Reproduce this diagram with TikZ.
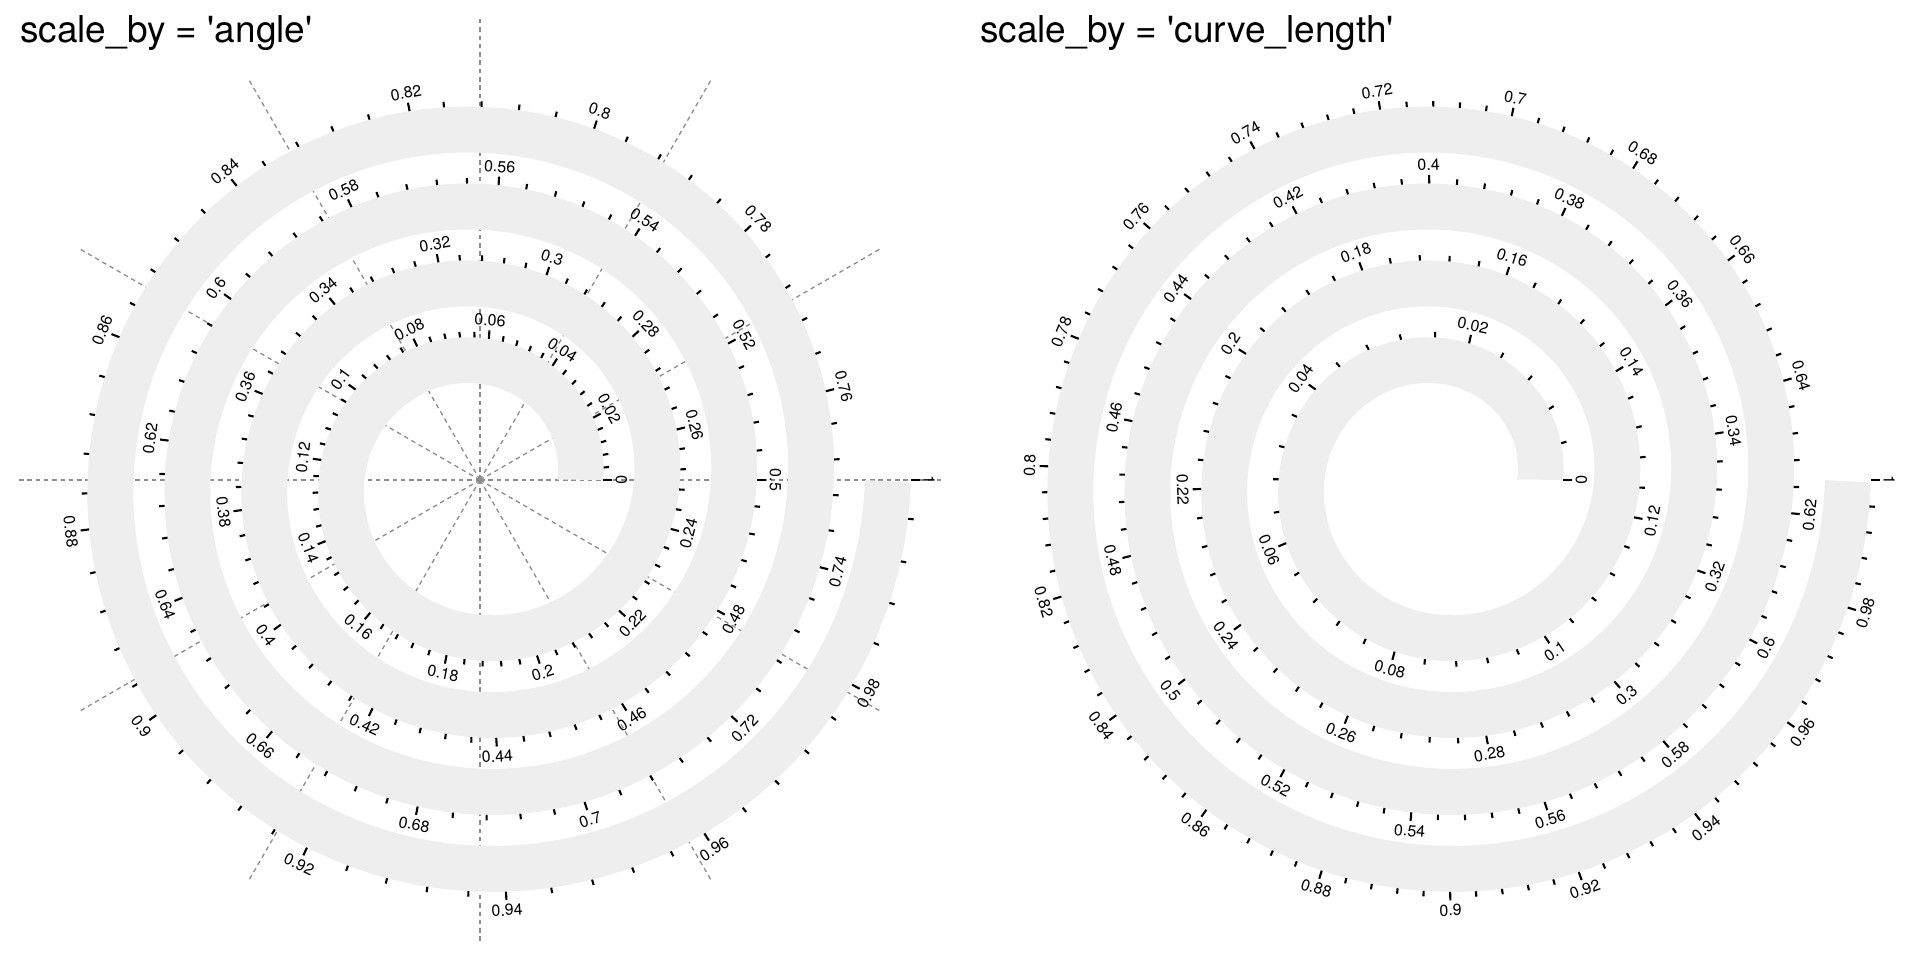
\documentclass[tikz,border=0pt]{standalone}
\usepackage{fontspec}
\newfontfamily\plotfont{TeX Gyre Heros}
\definecolor{trackgrey}{HTML}{EEEEEE}
\definecolor{gridgrey}{HTML}{8C8C8C}

\def\ticklist{0,0.02,0.04,0.06,0.08,0.1,0.12,0.14,0.16,0.18,0.2,0.22,0.24,0.26,0.28,0.3,0.32,0.34,0.36,0.38,0.4,0.42,0.44,0.46,0.48,0.5,0.52,0.54,0.56,0.58,0.6,0.62,0.64,0.66,0.68,0.7,0.72,0.74,0.76,0.78,0.8,0.82,0.84,0.86,0.88,0.9,0.92,0.94,0.96,0.98,1}

\begin{document}
\begin{tikzpicture}[x=1pt,y=1pt,
  band/.style={fill=trackgrey,draw=none},
  gridline/.style={gridgrey,line width=1.3pt,dash pattern=on 4.5pt off 3.8pt},
  tick/.style={line width=2.1pt},
  ticklabel/.style={inner sep=2pt,font=\plotfont\fontsize{16}{18}\selectfont},
  title/.style={anchor=base west,inner sep=0pt,font=\plotfont\fontsize{37}{44}\selectfont}]
\useasboundingbox (0,0) rectangle (1920,960);

\coordinate (ctrA) at (480,480);
\coordinate (ctrL) at (1440,480);

\node[title] (titleA) at (20,917) {scale\_by = 'angle'};
\node[title] (titleL) at (980,917) {scale\_by = 'curve\_length'};

% scale_by = angle
\begin{scope}[shift={(ctrA)}]
\foreach \a in {0,30,...,330} \draw[gridline] (0,0) -- (\a:462);
\fill[band] plot[domain=0:4,samples=481] ({\x*360}:{123+77*\x}) -- plot[domain=4:0,samples=481] ({\x*360}:{77+77*\x}) -- cycle;
\foreach \i in {0,...,250} {
  \pgfmathtruncatemacro\minor{mod(\i,5)}
  \ifnum\minor>0
  \pgfmathsetmacro\turn{0.016*\i}
  \pgfmathsetmacro\tha{360*\turn}
  \pgfmathsetmacro\rad{123+77*\turn}
  \draw[tick] (\tha:\rad) -- (\tha:{\rad+5.5});
  \fi
}
\foreach \v [count=\k] in \ticklist {
  \pgfmathsetmacro\turn{4*\v}
  \pgfmathsetmacro\tha{360*\turn}
  \pgfmathsetmacro\rad{123+77*\turn}
  \pgfmathsetmacro\ang{mod(\tha,360)}
  \ifdim\ang pt<180pt \def\anch{south}\pgfmathsetmacro\rot{\ang-90}\else\def\anch{north}\pgfmathsetmacro\rot{\ang+90}\fi
  \draw[tick] (\tha:\rad) -- (\tha:{\rad+8.5});
  \node[ticklabel,anchor=\anch,rotate=\rot] (al\k) at (\tha:{\rad+10.5}) {\v};
}
\end{scope}

% scale_by = curve_length
\begin{scope}[shift={(ctrL)}]
\fill[band] plot[domain=0:4,samples=481] ({\x*360}:{123+77*\x}) -- plot[domain=4:0,samples=481] ({\x*360}:{77+77*\x}) -- cycle;
\foreach \i in {0,...,250} {
  \pgfmathtruncatemacro\minor{mod(\i,5)}
  \ifnum\minor>0
  \pgfmathsetmacro\turn{sqrt(1+0.096*\i)-1}
  \pgfmathsetmacro\tha{360*\turn}
  \pgfmathsetmacro\rad{123+77*\turn}
  \draw[tick] (\tha:\rad) -- (\tha:{\rad+5.5});
  \fi
}
\foreach \v [count=\k] in \ticklist {
  \pgfmathsetmacro\turn{sqrt(1+24*\v)-1}
  \pgfmathsetmacro\tha{360*\turn}
  \pgfmathsetmacro\rad{123+77*\turn}
  \pgfmathsetmacro\ang{mod(\tha,360)}
  \ifdim\ang pt<180pt \def\anch{south}\pgfmathsetmacro\rot{\ang-90}\else\def\anch{north}\pgfmathsetmacro\rot{\ang+90}\fi
  \draw[tick] (\tha:\rad) -- (\tha:{\rad+8.5});
  \node[ticklabel,anchor=\anch,rotate=\rot] (cl\k) at (\tha:{\rad+10.5}) {\v};
}
\end{scope}
\end{tikzpicture}
\end{document}
